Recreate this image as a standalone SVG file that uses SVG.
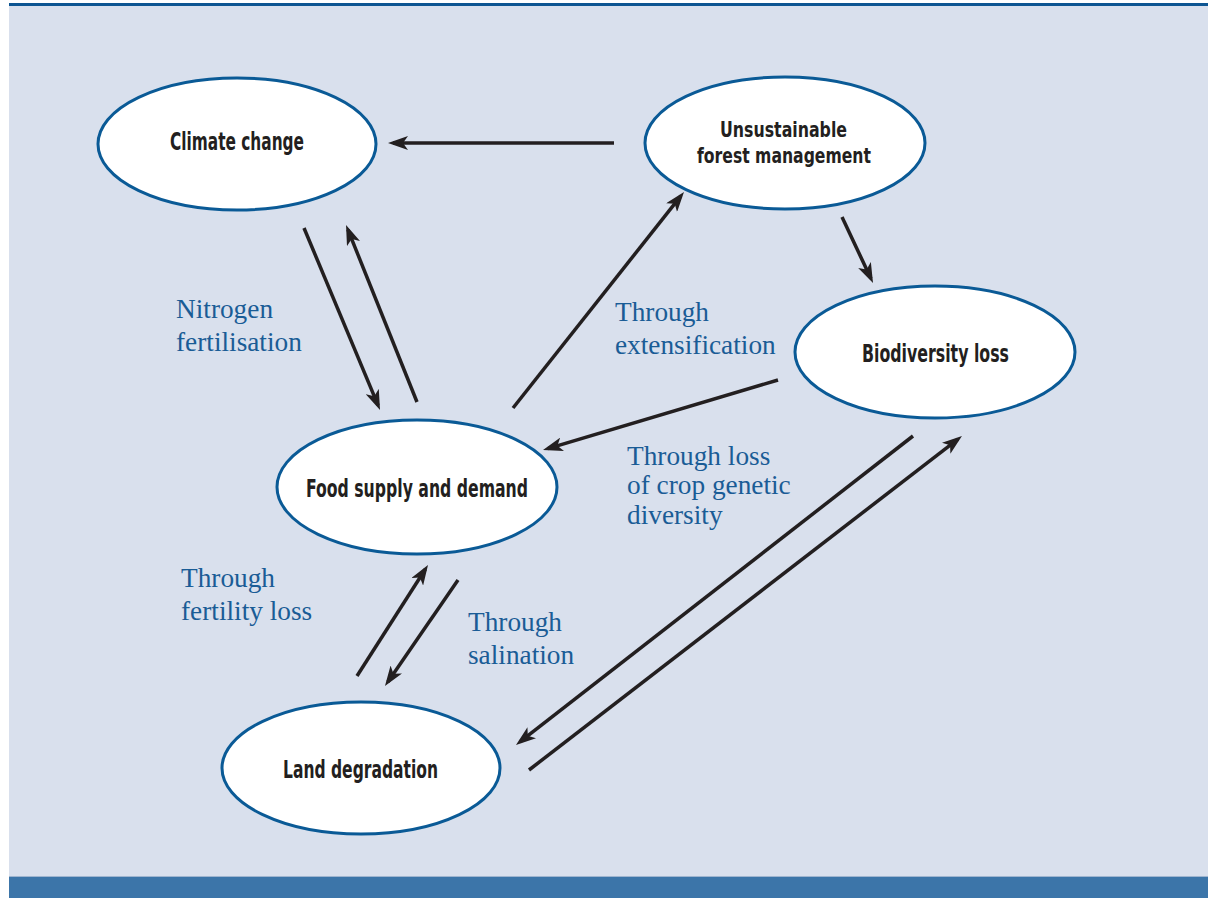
<svg xmlns="http://www.w3.org/2000/svg" width="1208" height="898" viewBox="0 0 1208 898">
<style>
.node ellipse{fill:#ffffff;stroke:#0a5a96;stroke-width:3}
.node text{font-family:"Liberation Sans Narrow","DejaVu Sans Condensed","Liberation Sans",sans-serif;font-weight:bold;font-size:24px;fill:#231f20}
#forest text{font-size:22px}
.lbl{font-family:"Liberation Serif","Times New Roman",serif;font-size:27.3px;fill:#1a5c96}
.conn line{stroke:#231f20;stroke-width:3.5;marker-end:url(#ah)}
</style>
<defs>
<marker id="ah" viewBox="0 0 20 14" refX="15" refY="7" markerWidth="20" markerHeight="14" markerUnits="userSpaceOnUse" orient="auto">
<path d="M0,0 L20,7 L0,14 L5,7 Z" fill="#231f20"/>
</marker>
</defs>
<rect x="0" y="0" width="1208" height="898" fill="#ffffff"/>
<rect x="9" y="6" width="1199" height="871" fill="#d9e0ed"/>
<rect x="9" y="3" width="1199" height="3" fill="#0d5592"/>
<rect x="9" y="876" width="1199" height="1" fill="#9fb5d0"/>
<rect x="9" y="877" width="1199" height="21" fill="#3c75a9"/>

<g id="connectors" class="conn">
<line x1="614" y1="143" x2="393" y2="143"/>
<line x1="304" y1="228" x2="378.1" y2="405.4"/>
<line x1="417" y1="402" x2="347.9" y2="229.6"/>
<line x1="513" y1="408" x2="680.9" y2="195.9"/>
<line x1="842" y1="217" x2="870.9" y2="278.5"/>
<line x1="778" y1="380" x2="547.8" y2="448.6"/>
<line x1="458" y1="580" x2="387.8" y2="681.9"/>
<line x1="357" y1="676" x2="425.3" y2="569.2"/>
<line x1="913" y1="436" x2="519.9" y2="741.9"/>
<line x1="529" y1="770" x2="958" y2="439.1"/>
</g>

<g id="climate" class="node">
<ellipse cx="237" cy="144" rx="139" ry="66"/>
<text x="170" y="150" textLength="134" lengthAdjust="spacingAndGlyphs">Climate change</text>
</g>
<g id="forest" class="node">
<ellipse cx="785" cy="143" rx="140" ry="66"/>
<text x="720" y="137" textLength="127" lengthAdjust="spacingAndGlyphs">Unsustainable</text>
<text x="697" y="163" textLength="174" lengthAdjust="spacingAndGlyphs">forest management</text>
</g>
<g id="biodiversity" class="node">
<ellipse cx="935" cy="352" rx="140" ry="66"/>
<text x="862" y="362" textLength="147" lengthAdjust="spacingAndGlyphs">Biodiversity loss</text>
</g>
<g id="food" class="node">
<ellipse cx="417" cy="487" rx="140" ry="67"/>
<text x="306" y="497" textLength="222" lengthAdjust="spacingAndGlyphs">Food supply and demand</text>
</g>
<g id="land" class="node">
<ellipse cx="361" cy="768" rx="139" ry="66"/>
<text x="283" y="778" textLength="155" lengthAdjust="spacingAndGlyphs">Land degradation</text>
</g>

<g id="labels">
<text class="lbl" x="176" y="318">Nitrogen</text>
<text class="lbl" x="176" y="351">fertilisation</text>
<text class="lbl" x="615" y="321">Through</text>
<text class="lbl" x="615" y="354">extensification</text>
<text class="lbl" x="627" y="465">Through loss</text>
<text class="lbl" x="627" y="494">of crop genetic</text>
<text class="lbl" x="627" y="524">diversity</text>
<text class="lbl" x="181" y="587">Through</text>
<text class="lbl" x="181" y="620">fertility loss</text>
<text class="lbl" x="468" y="631">Through</text>
<text class="lbl" x="468" y="664">salination</text>
</g>
</svg>
